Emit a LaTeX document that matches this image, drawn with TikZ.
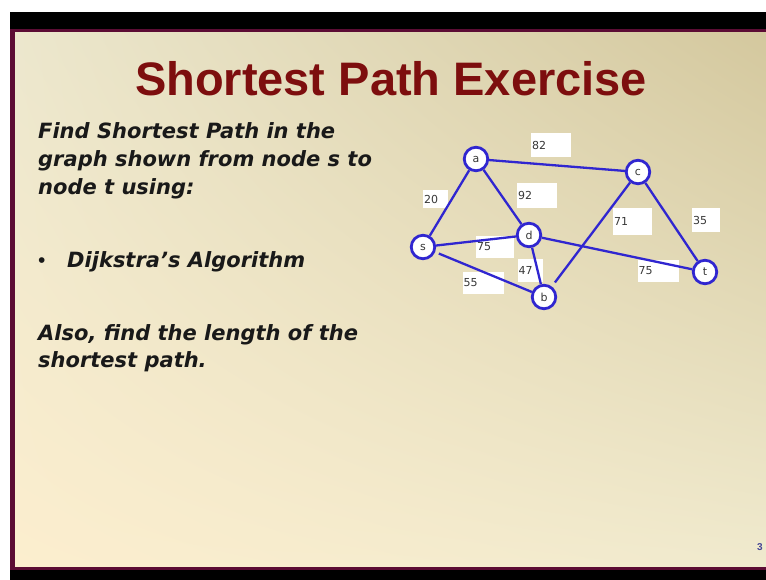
\documentclass[tikz,border=0pt]{standalone}
\usepackage{fontspec}
\setmainfont{Liberation Sans}
\newfontfamily\graphfont{DejaVu Sans}
\newfontfamily\taskfont{DejaVu Sans}
\usetikzlibrary{positioning,calc,shadings}
\definecolor{titlered}{RGB}{125,14,14}
\definecolor{framemaroon}{RGB}{92,12,52}
\definecolor{edgeblue}{RGB}{48,38,208}
\definecolor{labgray}{RGB}{55,55,55}
\definecolor{slidetl}{RGB}{236,231,205}
\definecolor{slidetr}{RGB}{212,200,158}
\definecolor{slidebl}{RGB}{252,238,206}
\definecolor{slidebr}{RGB}{240,234,206}
\definecolor{pagenum}{RGB}{70,70,150}
\pgfdeclarelayer{slide}
\pgfdeclarelayer{edges}
\pgfsetlayers{slide,edges,main}

\tikzset{
  vtx/.style={circle,draw=edgeblue,line width=2.8pt,fill=white,minimum size=23.5pt,inner sep=0pt,
    font=\graphfont\fontsize{11}{12}\selectfont,text=labgray},
  edge/.style={draw=edgeblue,line width=2.3pt},
  wbox/.style={fill=white,inner xsep=1pt,inner ysep=0pt,align=left,
    font=\graphfont\fontsize{11}{12}\selectfont,text=labgray},
  body/.style={anchor=base west,inner sep=0pt,font=\taskfont\fontsize{21}{28}\selectfont\bfseries\itshape,
    text=black!90}
}

\begin{document}
\begin{tikzpicture}[x=1pt,y=-1pt]
\useasboundingbox (0,0) rectangle (766,580);
\begin{pgfonlayer}{slide}
% slide frame
\fill[white] (0,0) rectangle (766,580);
\fill[black] (10,12) rectangle (766,580);
\fill[framemaroon] (10,29) rectangle (766,570);
\shade[upper left=slidetl,upper right=slidetr,lower left=slidebl,lower right=slidebr]
  (15,33) rectangle (766,566);
% weight boxes (behind the edges)
\foreach \nm/\x/\y/\w/\h/\t in {w82/551/145/38/24/82,w20/435.5/199/23/18/20,w92/537/195.5/38/25/92,
  w71/632.5/221.5/37/27/71,w35/706/220/26/24/35,wsd/495/247/36/22/75,w47/530/270.5/23/23/47,
  w55/483/283/39/22/55,wdt/658/271/39/22/75}{
  \node[wbox,text width=\w pt,minimum height=\h pt] (\nm) at (\x,\y) {\t};
}
\end{pgfonlayer}
% title
\node[anchor=base,inner sep=0pt,font=\fontsize{47}{52}\selectfont\bfseries,text=titlered]
  (title) at (391,96) {Shortest Path Exercise};
% task text
\foreach \yy/\txt in {139/{Find Shortest Path in the},167/{graph shown from node s to},195/{node t using:},
  340/{Also, find the length of the},367/{shortest path.}}{
  \node[body] at (38,\yy) {\txt};
}
\node[body,font=\fontsize{21}{28}\selectfont] (bul) at (38,268) {\textbullet};
\node[body] (algo) at (67,268) {Dijkstra’s Algorithm};
% vertices
\foreach \n/\x/\y in {a/476/159,c/638/172,s/423/247,d/529/235,b/544/297,t/705/272}{
  \node[vtx] (\n) at (\x,\y) {\n};
}
% edges
\begin{pgfonlayer}{edges}
\foreach \u/\v in {s/a,a/c,a/d,s/d,d/b,d/t,c/t}{
  \path[edge] (\u) -- (\v);
}
\path[edge,shorten <=4pt] (s) -- (b);
\path[edge,shorten >=5pt] (c) -- (b);
\end{pgfonlayer}
\node[anchor=west,inner sep=0pt,font=\fontsize{10}{12}\selectfont\bfseries,text=pagenum] (pg) at (757,547) {3};
\end{tikzpicture}
\end{document}
